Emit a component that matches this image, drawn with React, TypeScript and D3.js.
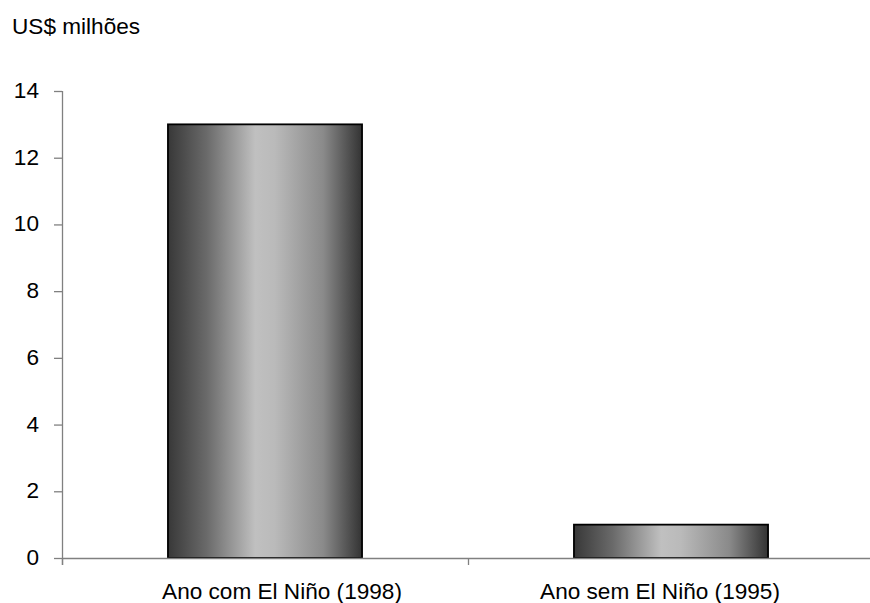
import React from "react";
import * as d3 from "d3";

const categories = ["Ano com El Niño (1998)", "Ano sem El Niño (1995)"];
const values = [13, 1];
const yTicks = [0, 2, 4, 6, 8, 10, 12, 14];
const yLabel = "US$ milhões";

export default function App() {
  const W = 870, H = 603;
  const left = 62, right = 874, top = 91, bottom = 558;
  const x = d3.scaleBand<string>().domain(categories).range([left, right]).padding(0);
  const y = d3.scaleLinear().domain([0, 14]).range([bottom, top]);
  const barW = x.bandwidth() * 0.478;
  const labelShift = [17, -11];
  const fs = 22.6;
  const font = "'Liberation Sans', Arial, sans-serif";
  const axisColor = "#808080";
  return (
    <svg width={W} height={H} style={{ position: "absolute", left: 0, top: 0, background: "#fff" }} fontFamily={font}>
      <defs>
        <linearGradient id="barGrad" x1="0" x2="1" y1="0" y2="0">
          <stop offset="0" stopColor="#383838" />
          <stop offset="0.2" stopColor="#6a6a6a" />
          <stop offset="0.45" stopColor="#c0c0c0" />
          <stop offset="0.55" stopColor="#bababa" />
          <stop offset="0.8" stopColor="#8a8a8a" />
          <stop offset="1" stopColor="#333333" />
        </linearGradient>
      </defs>
      <text x={12} y={34} fontSize={fs} fill="#000">{yLabel}</text>
      {categories.map((c, i) => {
        const cx = (x(c) as number) + x.bandwidth() / 2;
        return (
          <rect key={c} x={cx - barW / 2} y={y(values[i])} width={barW} height={y(0) - y(values[i])}
            fill="url(#barGrad)" stroke="#000" strokeWidth={1.8} />
        );
      })}
      <line x1={left + 0.5} x2={left + 0.5} y1={top} y2={bottom + 7} stroke={axisColor} strokeWidth={1.3} />
      <line x1={left} x2={right} y1={bottom + 0.5} y2={bottom + 0.5} stroke={axisColor} strokeWidth={1.3} />
      {yTicks.map((t) => (
        <g key={t}>
          <line x1={left - 8} x2={left} y1={y(t) + 0.5} y2={y(t) + 0.5} stroke={axisColor} strokeWidth={1.3} />
          <text x={39} y={y(t) + 7} fontSize={fs} textAnchor="end" fill="#000">{t}</text>
        </g>
      ))}
      {[...categories.map((c) => x(c) as number), right].map((tx, i) => (
        <line key={i} x1={tx + 0.5} x2={tx + 0.5} y1={bottom} y2={bottom + 7} stroke={axisColor} strokeWidth={1.3} />
      ))}
      {categories.map((c, i) => (
        <text key={c} x={(x(c) as number) + x.bandwidth() / 2 + labelShift[i]} y={599} fontSize={fs} textAnchor="middle" fill="#000">{c}</text>
      ))}
    </svg>
  );
}
